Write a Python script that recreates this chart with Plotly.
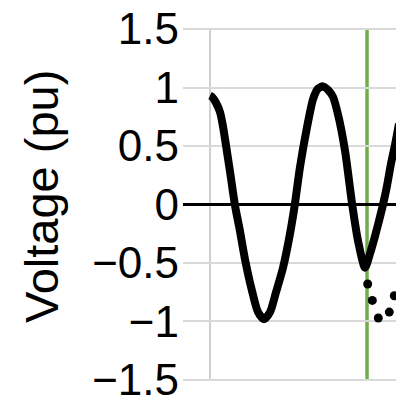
import plotly.graph_objects as go

# Measured voltage waveform (time in ms, voltage in pu)
time_ms = [0.0, 0.33, 0.98, 1.64, 2.05, 2.46, 3.28, 4.10, 4.92, 5.74, 6.89, 7.87, 8.85,
           9.84, 10.82, 11.97, 13.11, 13.93, 14.75, 15.90, 16.89, 17.70, 18.52,
           19.34, 20.16, 20.98, 22.13, 23.28, 24.26, 25.41, 26.23, 27.05, 27.70,
           28.36, 29.02, 29.67, 30.33, 30.98]
voltage_pu = [0.93, 0.92, 0.87, 0.79, 0.69, 0.56, 0.28, -0.01, -0.23, -0.47, -0.74, -0.92, -0.98,
              -0.92, -0.75, -0.54, -0.25, 0.01, 0.32, 0.66, 0.90, 0.99, 1.01,
              0.98, 0.92, 0.77, 0.46, 0.01, -0.31, -0.54, -0.42, -0.27, -0.14,
              0.00, 0.16, 0.35, 0.51, 0.69]

# Sparse samples of the second signal after the event
dot_time_ms = [25.85, 26.61, 27.59, 29.39, 30.21]
dot_voltage_pu = [-0.68, -0.82, -0.97, -0.92, -0.78]

event_time_ms = 25.74
y_ticks = [-1.5, -1.0, -0.5, 0.0, 0.5, 1.0, 1.5]

font_family = "Liberation Sans, Arial, sans-serif"

fig = go.Figure()
fig.add_trace(go.Scatter(
    x=time_ms, y=voltage_pu, mode="lines",
    line=dict(color="black", width=8, shape="spline", smoothing=0.7),
    showlegend=False, hoverinfo="skip",
))
fig.add_trace(go.Scatter(
    x=dot_time_ms, y=dot_voltage_pu, mode="markers",
    marker=dict(color="black", size=9),
    showlegend=False, hoverinfo="skip",
))

fig.add_shape(type="line", xref="x", yref="paper",
              x0=event_time_ms, x1=event_time_ms, y0=0, y1=1,
              line=dict(color="#70ad47", width=3.5), layer="below")

fig.add_annotation(
    text="Voltage (pu)", textangle=-90,
    xref="paper", yref="paper", x=0, y=0.521,
    xanchor="center", yanchor="middle", xshift=-142,
    showarrow=False,
    font=dict(family=font_family, size=47, color="black"),
)

fig.update_layout(
    width=396, height=404,
    margin=dict(l=183, r=0, t=28, b=21),
    paper_bgcolor="white", plot_bgcolor="white",
    xaxis=dict(
        range=[-4.43, 30.49], tickvals=[0], showticklabels=False,
        showgrid=True, gridcolor="#d0d0d0", gridwidth=2,
        zeroline=False, showline=False, ticks="",
    ),
    yaxis=dict(
        range=[-1.509, 1.509], tickvals=y_ticks,
        showgrid=True, gridcolor="#d9d9d9", gridwidth=2,
        zeroline=True, zerolinecolor="black", zerolinewidth=3,
        showline=False, ticks="",
        ticklabeloverflow="allow", ticklabelstandoff=3,
        tickfont=dict(family=font_family, size=44, color="black"),
    ),
)

fig.write_html("out.html")
